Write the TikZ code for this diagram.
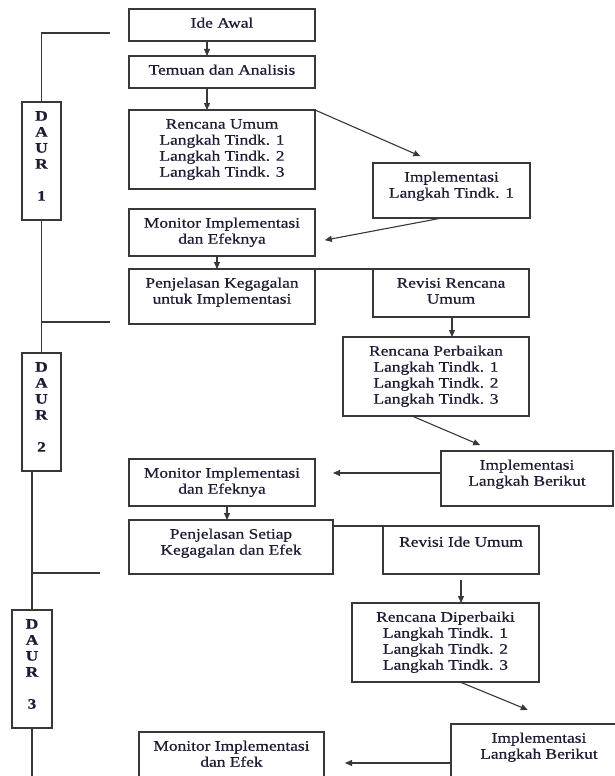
\documentclass[tikz,border=0pt]{standalone}
\usepackage{fontspec}
\setmainfont{Liberation Serif}[FakeStretch=1.2,FakeBold=0.6]
\usetikzlibrary{arrows.meta}
\definecolor{ink}{HTML}{1C1C34}
\definecolor{edge}{HTML}{383838}
% box content: fixed width and height, text hung from the top edge
\newcommand{\bx}[3]{\parbox[c][#2][t]{#1}{\centering\vspace*{7.5pt}\strut #3}}

\begin{document}
\begin{tikzpicture}[x=1pt,y=-1pt,
  flow/.style={draw=edge,line width=1.3pt,inner sep=0pt,outer sep=0pt,text=ink,
    font=\fontsize{14.5}{16}\selectfont},
  daur/.style={flow,font=\fontsize{14.5}{16}\selectfont\bfseries},
  link/.style={draw=edge,line width=1.1pt,-{Triangle[length=7pt,width=6pt]}},
  rule/.style={draw=edge,line width=1.3pt}]

\useasboundingbox (0,0) rectangle (615,776);
\fill[white] (0,0) rectangle (615,776);
\clip (0,0) rectangle (615,776);

% cycle 1
\node[flow] (ideawal)     at (222,25)    {\bx{186pt}{32pt}{Ide Awal}};
\node[flow] (temuan)      at (222,72)    {\bx{186pt}{32pt}{Temuan dan Analisis}};
\node[flow] (rencana1)    at (222,149.5) {\bx{186pt}{79pt}{Rencana Umum\\Langkah Tindk. 1\\Langkah Tindk. 2\\Langkah Tindk. 3}};
\node[flow] (impl1)       at (451.5,190.5) {\bx{157pt}{55pt}{Implementasi\\Langkah Tindk. 1}};
\node[flow] (monitor1)    at (222,232.5) {\bx{186pt}{47pt}{Monitor Implementasi\\dan Efeknya}};
\node[flow] (penjelasan1) at (222,296.5) {\bx{186pt}{55pt}{Penjelasan Kegagalan\\untuk Implementasi}};

% cycle 2
\node[flow] (revisi1)     at (451,293)   {\bx{156pt}{48pt}{Revisi Rencana\\Umum}};
\node[flow] (rencana2)    at (436,376.5) {\bx{186pt}{79pt}{Rencana Perbaikan\\Langkah Tindk. 1\\Langkah Tindk. 2\\Langkah Tindk. 3}};
\node[flow] (impl2)       at (527,478.5) {\bx{172pt}{55pt}{Implementasi\\Langkah Berikut}};
\node[flow] (monitor2)    at (222,482.5) {\bx{186pt}{47pt}{Monitor Implementasi\\dan Efeknya}};
\node[flow] (penjelasan2) at (231,547)   {\bx{204pt}{54pt}{Penjelasan Setiap\\Kegagalan dan Efek}};

% cycle 3
\node[flow] (revisi2)     at (461,550)   {\parbox[c][48pt][t]{156pt}{\centering\vspace*{9.5pt}\strut Revisi Ide Umum}};
\node[flow] (rencana3)    at (445.5,642.5) {\bx{187pt}{79pt}{Rencana Diperbaiki\\Langkah Tindk. 1\\Langkah Tindk. 2\\Langkah Tindk. 3}};
\node[flow] (impl3)       at (539,759)   {\bx{176pt}{70pt}{Implementasi\\Langkah Berikut}};
\node[flow] (monitor3)    at (231.5,762) {\bx{185pt}{60pt}{Monitor Implementasi\\dan Efek}};

% cycle labels
\node[daur] (daur1) at (41.5,161) {\bx{39pt}{118pt}{D\\A\\U\\R\\[16pt]1}};
\node[daur] (daur2) at (41.5,412) {\bx{39pt}{118pt}{D\\A\\U\\R\\[16pt]2}};
\node[daur] (daur3) at (32,669)   {\bx{40pt}{118pt}{D\\A\\U\\R\\[16pt]3}};

% cycle boundaries on the left
\coordinate (cut1) at (110,33);
\coordinate (cut2) at (110,322);
\coordinate (cut3) at (100,573);
\coordinate (tail) at (32,776);
\draw[rule] (cut1) -| (daur1.north);
\draw[rule] (daur1.south) -- (daur2.north);
\draw[rule] (cut2) -- (cut2 -| daur1.south);
\draw[rule] (daur2.south -| daur3.north) -- (daur3.north);
\draw[rule] (cut3) -- (cut3 -| daur3.north);
\draw[rule] (daur3.south) -- (tail);

% flow of cycle 1
\draw[link] ([xshift=78pt]ideawal.south west) -- ([xshift=78pt]temuan.north west);
\draw[link] ([xshift=78pt]temuan.south west) -- ([xshift=78pt]rencana1.north west);
\draw[link,shorten >=17pt] (rencana1.north east) -- ([xshift=63pt]impl1.north west);
\draw[link,shorten >=10pt] ([xshift=69pt]impl1.south west) -- ([yshift=-9.5pt]monitor1.east);
\draw[link] ([xshift=88pt]monitor1.south west) -- ([xshift=88pt]penjelasan1.north west);
\draw[rule] (penjelasan1.north east) -- ([xshift=9pt]revisi1.north west);

% flow of cycle 2
\draw[link] ([xshift=79pt]revisi1.south west) -- ([xshift=109pt]rencana2.north west);
\draw[link,shorten >=15pt] ([xshift=69pt]rencana2.south west) -- ([xshift=53pt]impl2.north west);
\draw[link,shorten >=18pt] ([yshift=5.5pt]impl2.west) -- ([yshift=9.5pt]monitor2.east);
\draw[link] ([xshift=98pt]monitor2.south west) -- ([xshift=98pt]penjelasan2.north west);
\draw[rule] ([yshift=-6pt]penjelasan2.north east) -- ([xshift=10pt]revisi2.north west);

% flow of cycle 3
\draw[link,shorten <=6pt] ([xshift=78pt]revisi2.south west) -- ([xshift=109pt]rencana3.north west);
\draw[link,shorten >=37pt] ([xshift=108pt]rencana3.south west) -- ([xshift=111pt]impl3.north west);
\draw[link,shorten >=21pt] ([yshift=-4pt]impl3.west) -- ([yshift=-1pt]monitor3.east);
\end{tikzpicture}
\end{document}
